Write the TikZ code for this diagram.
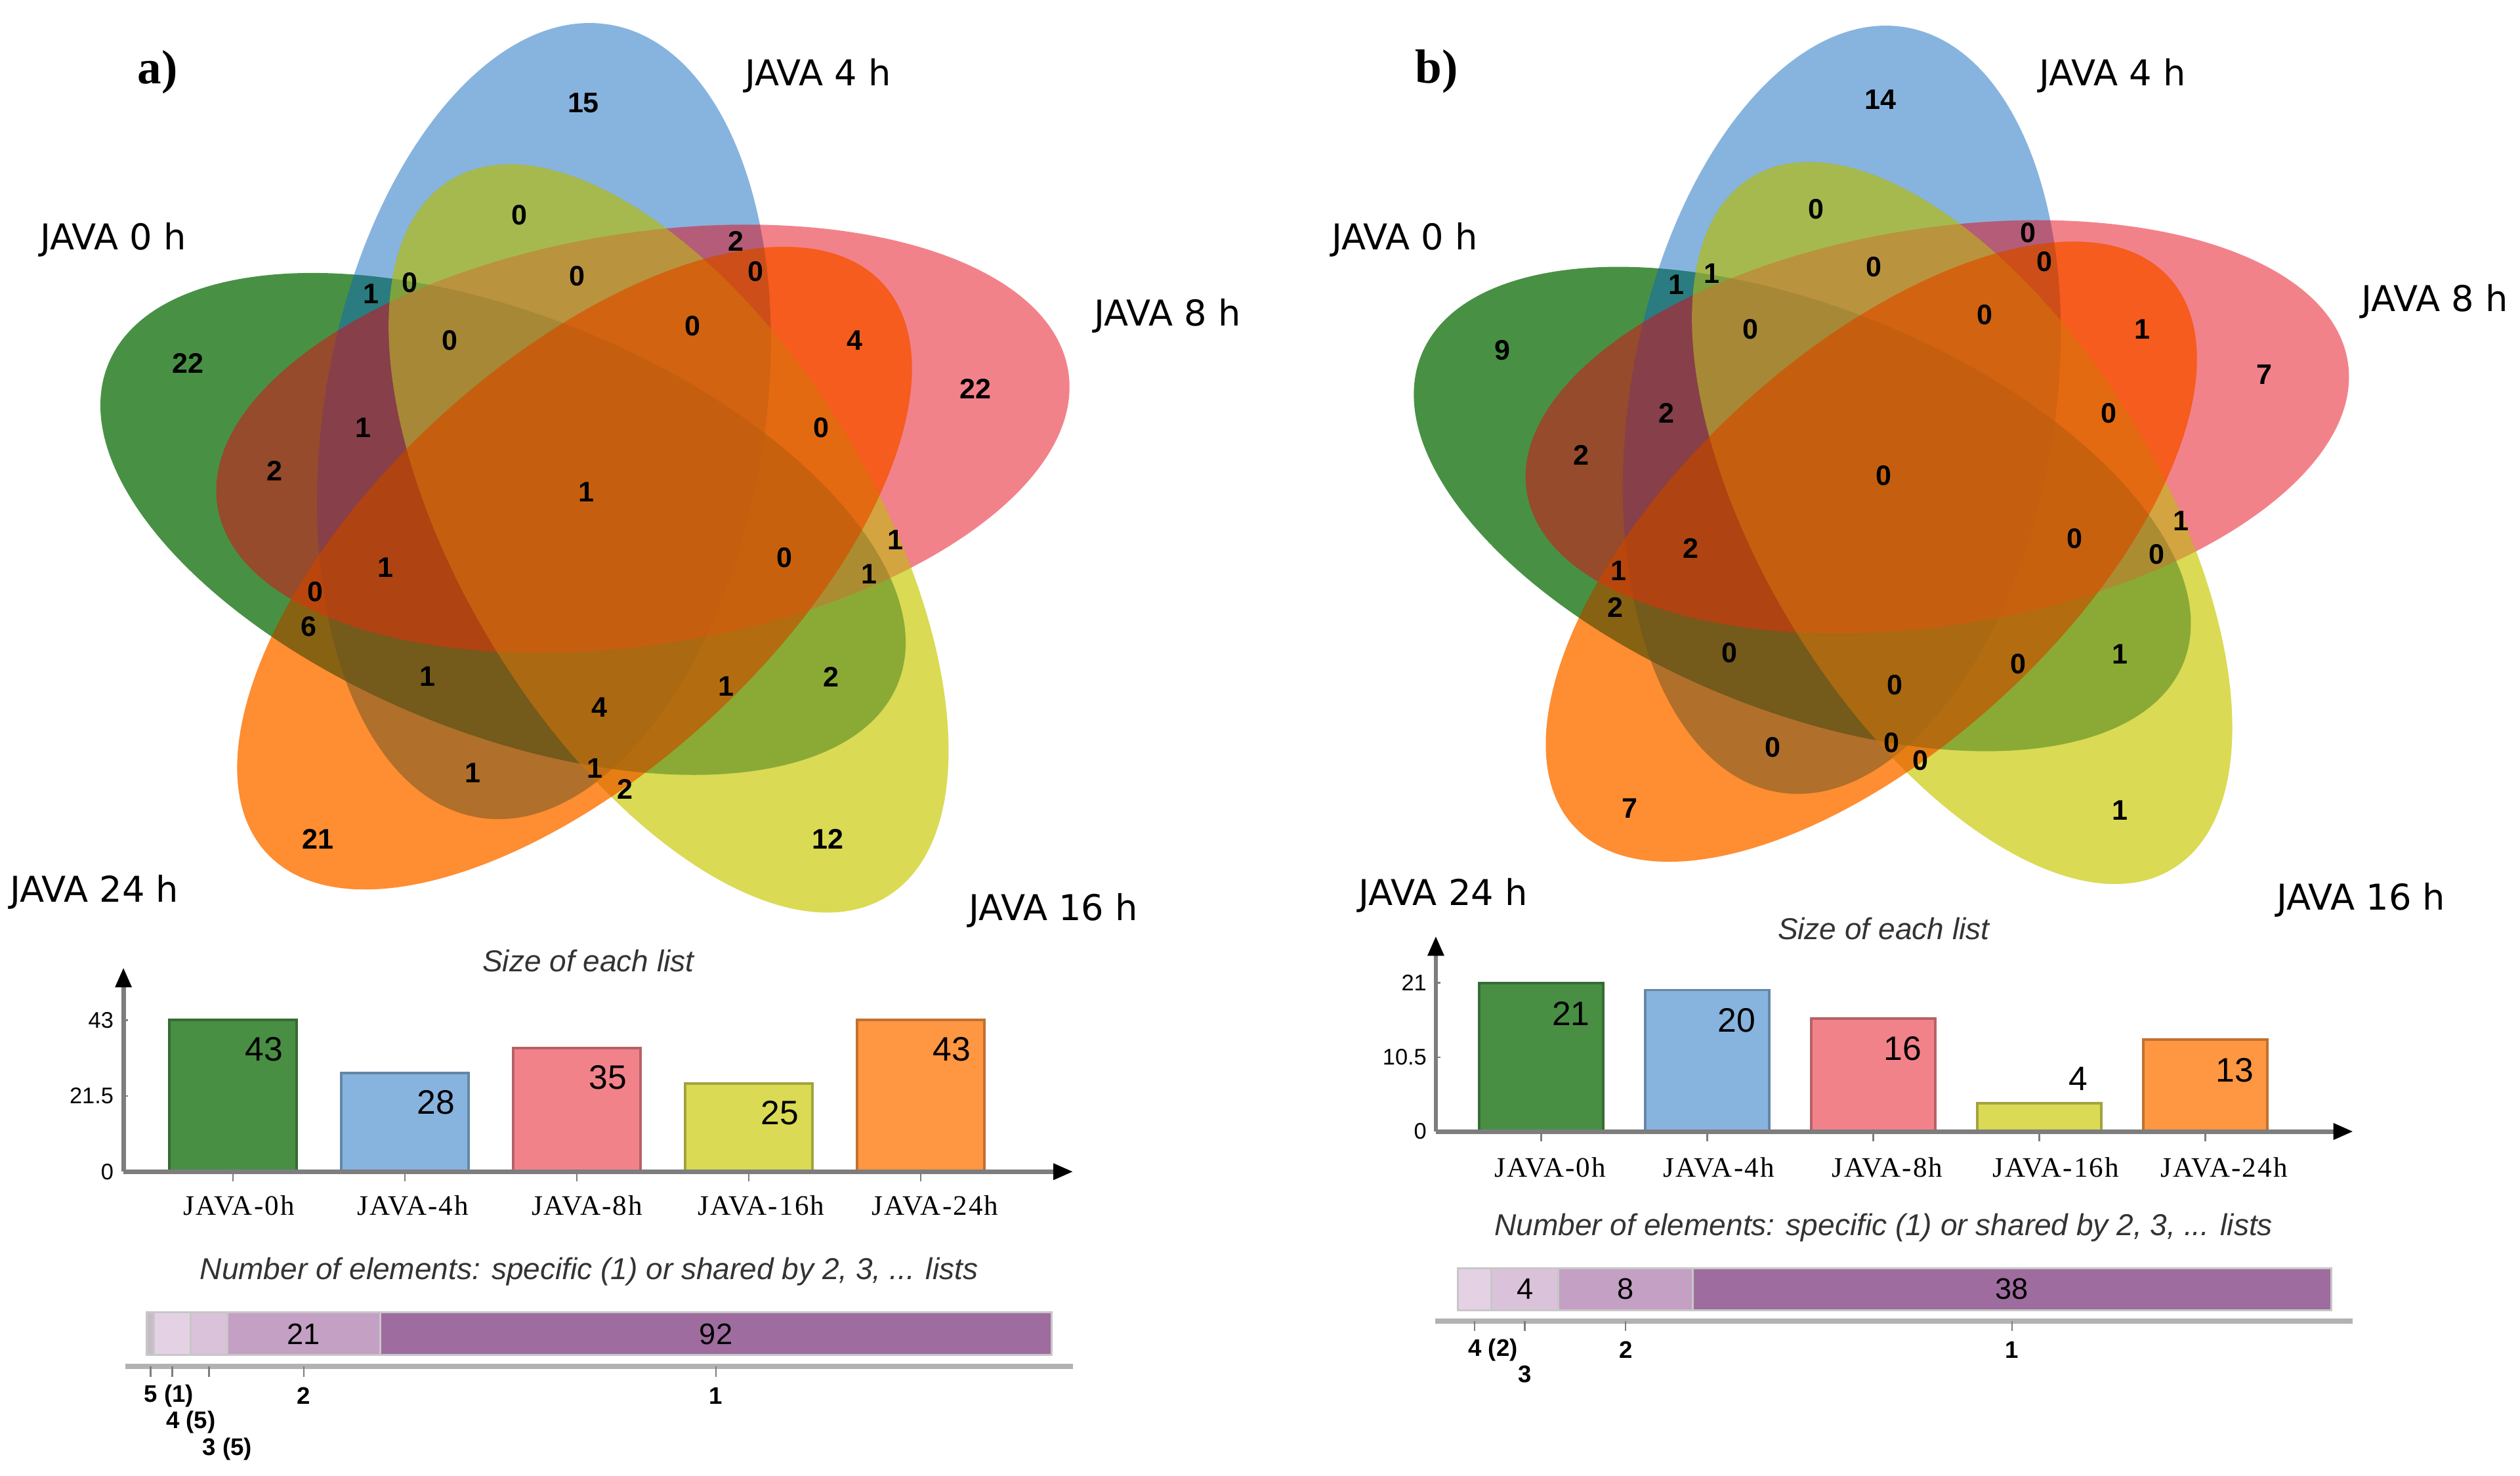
\documentclass[tikz,border=0pt]{standalone}
\usepackage{fontspec}
\setmainfont{Liberation Serif}
\newfontfamily\labfont{DejaVu Sans}
\newfontfamily\numfont{Liberation Sans}
\newfontfamily\catfont[LetterSpace=5]{Liberation Serif}
\usetikzlibrary{arrows.meta}

\definecolor{vgreen}{RGB}{26,118,21}
\definecolor{vblue}{RGB}{15,105,189}
\definecolor{vpink}{RGB}{229,5,21}
\definecolor{vorange}{RGB}{255,125,20}
\definecolor{bgreen}{RGB}{72,143,68}
\definecolor{bblue}{RGB}{135,180,222}
\definecolor{bpink}{RGB}{242,130,138}
\definecolor{byellow}{RGB}{218,218,85}
\definecolor{borange}{RGB}{255,150,65}
\definecolor{lone}{RGB}{158,108,158}
\definecolor{ltwo}{RGB}{196,160,196}
\definecolor{lthree}{RGB}{218,194,218}
\definecolor{lfour}{RGB}{228,210,228}
\definecolor{lfive}{RGB}{198,188,198}
\definecolor{axgray}{RGB}{125,125,125}

\tikzset{
  setname/.style={font=\labfont\fontsize{12.6}{14}\selectfont},
  cnt/.style={font=\numfont\bfseries\fontsize{10}{11}\selectfont, inner sep=0pt},
  panel/.style={font=\bfseries\fontsize{17}{19}\selectfont},
  ttl/.style={font=\numfont\itshape\fontsize{10.7}{12}\selectfont, text=black!80},
  barval/.style={font=\numfont\fontsize{12}{13}\selectfont, anchor=east, inner sep=0pt},
  cat/.style={font=\catfont\fontsize{10}{11}\selectfont},
  ytick/.style={font=\numfont\fontsize{8}{9}\selectfont, anchor=east, inner sep=0pt},
  lvl/.style={font=\numfont\bfseries\fontsize{8.5}{9}\selectfont, inner sep=0pt},
  segval/.style={font=\numfont\fontsize{10.5}{11}\selectfont},
  axline/.style={draw=axgray, line width=1.6pt, -{Triangle[length=7pt,width=5.5pt,color=black]}},
  baseline/.style={draw=black!30, line width=1.9pt},
  tck/.style={draw=axgray, line width=0.6pt},
  bar/.style={line width=0.9pt},
  seg/.style={draw=black!22, line width=0.7pt},
}

% the five ellipses, in panel a units
\newcommand{\fivesets}{%
  \fill[vgreen, fill opacity=.8, shift={(313,592)}, rotate=-22] (0,0) ellipse [x radius=265, y radius=130];
  \fill[vblue, fill opacity=.5, shift={(338.5,656)}, rotate=80.6] (0,0) ellipse [x radius=250, y radius=137];
  \fill[vpink, fill opacity=.5, shift={(400,645)}, rotate=9] (0,0) ellipse [x radius=268, y radius=128];
  % yellow and orange: darken first, then cover
  \fill[byellow, blend mode=multiply, shift={(416,583)}, rotate=121.3] (0,0) ellipse [x radius=261, y radius=128];
  \fill[byellow, fill opacity=.5, shift={(416,583)}, rotate=121.3] (0,0) ellipse [x radius=261, y radius=128];
  \fill[borange, blend mode=multiply, shift={(357.5,564.5)}, rotate=42.75] (0,0) ellipse [x radius=261, y radius=126];
  \fill[vorange, fill opacity=.35, shift={(357.5,564.5)}, rotate=42.75] (0,0) ellipse [x radius=261, y radius=126];
}

\begin{document}
\begin{tikzpicture}[x=0.02cm,y=0.02cm]
\useasboundingbox (0,0) rectangle (1568,918);
%----------panel a: venn----------------------
\fivesets
\node[panel] (pa) at (98,873) {a)};
\node[setname] (s4a) at (509,871) {JAVA 4 h};
\node[setname] (s0a) at (70.5,769) {JAVA 0 h};
\node[setname] (s8a) at (726.5,721.5) {JAVA 8 h};
\node[setname] (s24a) at (58.7,363) {JAVA 24 h};
\node[setname] (s16a) at (655.5,351.4) {JAVA 16 h};
\foreach \px/\py/\n [count=\k] in {363/854/15,323/784/0,458/768/2,470/749/0,359/746/0,231/735/1,
    255/742/0,280/706/0,431/715/0,532/706/4,117/692/22,607/676/22,226/652/1,511/652/0,171/625/2,
    365/612/1,557/582/1,488/571/0,240/565/1,541/561/1,196/550/0,192/528/6,266/497/1,517/497/2,
    452/491/1,373/478/4,294/437/1,370/440/1,389/427/2,198/396/21,515/396/12}
  \node[cnt] (ca\k) at (\px,\py) {\n};
%----------panel b: venn----------------------
\begin{scope}[shift={(819.4,30)},scale=0.965]
\fivesets
\end{scope}
\node[panel] (pb) at (894,873.5) {b)};
\node[setname] (s4b) at (1314.5,871) {JAVA 4 h};
\node[setname] (s0b) at (874,769) {JAVA 0 h};
\node[setname] (s8b) at (1515,730.5) {JAVA 8 h};
\node[setname] (s24b) at (898,361) {JAVA 24 h};
\node[setname] (s16b) at (1469,358) {JAVA 16 h};
\foreach \px/\py/\n [count=\k] in {1170/856/14,1130/788/0,1262/773/0,1272/755/0,1166/752/0,1043/741/1,
    1065/748/1,1089/713/0,1235/722/0,1333/713/1,935/700/9,1409/685/7,1037/661/2,1312/661/0,984/635/2,
    1172/622/0,1357/594/1,1291/583/0,1052/577/2,1342/573/0,1007/563/1,1005/540/2,1076/512/0,1319/511/1,
    1256/505/0,1179/492/0,1103/453/0,1177/456/0,1195/445/0,1014/415/7,1319/414/1}
  \node[cnt] (cb\k) at (\px,\py) {\n};
%----------panel a: size of each list---------
\coordinate (oa) at (76.8,189);
\node[ttl] (ta) at (366,320) {Size of each list};
\foreach \c/\v [count=\i] in {bgreen/43,bblue/28,bpink/35,byellow/25,borange/43}{
  \pgfmathsetmacro{\bx}{105.4+(\i-1)*107}
  \pgfmathsetmacro{\bh}{\v*2.193}
  \draw[bar, fill=\c, draw=\c!75!black] (\bx,189) rectangle ++(79,\bh);
  \node[barval] (va\i) at (\bx+71,189+\bh-18.3) {\v};
  \draw[tck] (\bx+39.5,189) -- ++(0,-6);
}
\foreach \t [count=\i] in {JAVA-0h,JAVA-4h,JAVA-8h,JAVA-16h,JAVA-24h}
  \node[cat] (ka\i) at (148.7+\i*108.3-108.3,168) {\t};
\draw[axline] (oa) -- ++(590.9,0);
\draw[axline] (oa) -- ++(0,127);
\foreach \h/\t [count=\i] in {0/0,47.15/21.5,94.3/43}{
  \node[ytick] (ya\i) at (71,189+\h) {\t};
  \draw[tck] (76.8,189+\h) -- ++(3,0);
}
%----------panel a: shared elements-----------
\node[ttl] (ea) at (366.5,126.8) {Number of elements: specific (1) or shared by 2, 3, ... lists};
\draw[seg, fill=lfive] (91.4,74.8) rectangle (95.9,101.4);
\draw[seg, fill=lfour] (95.9,74.8) rectangle (118.6,101.4);
\draw[seg, fill=lthree] (118.6,74.8) rectangle (141.3,101.4);
\draw[seg, fill=ltwo] (141.3,74.8) rectangle (236.7,101.4);
\draw[seg, fill=lone] (236.7,74.8) rectangle (654.4,101.4);
\node[segval] (ga2) at (189,88) {21};
\node[segval] (ga1) at (445.5,88) {92};
\draw[baseline] (77.8,67.8) -- (667.7,67.8);
\foreach \x in {93.65,107.25,129.95,189,445.5}
  \draw[tck] (\x,67.8) -- ++(0,-6.3);
\node[lvl, anchor=west] (la5) at (89.45,49.4) {5 (1)};
\node[lvl, anchor=west] (la4) at (103.05,33.3) {4 (5)};
\node[lvl, anchor=west] (la3) at (125.75,16.2) {3 (5)};
\node[lvl] (la2) at (189,49.4) {2};
\node[lvl] (la1) at (445.5,49.4) {1};
%----------panel b: size of each list---------
\coordinate (ob) at (893.4,214);
\node[ttl] (tb) at (1172,340.3) {Size of each list};
\foreach \c/\v/\dy [count=\i] in {bgreen/21/-19,bblue/20/-19,bpink/16/-19,byellow/4/15,borange/13/-19}{
  \pgfmathsetmacro{\bx}{920.5+(\i-1)*103.3}
  \pgfmathsetmacro{\bh}{\v*4.4}
  \draw[bar, fill=\c, draw=\c!75!black] (\bx,214) rectangle ++(77,\bh);
  \node[barval] (vb\i) at (\bx+69,214+\bh+\dy) {\v};
  \draw[tck] (\bx+38.5,214) -- ++(0,-6);
}
\foreach \t [count=\i] in {JAVA-0h,JAVA-4h,JAVA-8h,JAVA-16h,JAVA-24h}
  \node[cat] (kb\i) at (964.7+\i*104.8-104.8,191.6) {\t};
\draw[axline] (ob) -- ++(570.8,0);
\draw[axline] (ob) -- ++(0,121.6);
\foreach \h/\t [count=\i] in {0/0,46.2/10.5,92.4/21}{
  \node[ytick] (yb\i) at (888,214+\h) {\t};
  \draw[tck] (893.4,214+\h) -- ++(3,0);
}
%----------panel b: shared elements-----------
\node[ttl] (eb) at (1172,154.2) {Number of elements: specific (1) or shared by 2, 3, ... lists};
\draw[seg, fill=lfour] (907,102.7) rectangle (927.9,129);
\draw[seg, fill=lthree] (927.9,102.7) rectangle (969.7,129);
\draw[seg, fill=ltwo] (969.7,102.7) rectangle (1053.3,129);
\draw[seg, fill=lone] (1053.3,102.7) rectangle (1450.4,129);
\node[segval] (gb3) at (948.8,116) {4};
\node[segval] (gb2) at (1011.5,116) {8};
\node[segval] (gb1) at (1251.9,116) {38};
\draw[baseline] (893,96.1) -- (1464,96.1);
\foreach \x in {917.45,948.8,1011.5,1251.9}
  \draw[tck] (\x,96.1) -- ++(0,-6.3);
\node[lvl, anchor=west] (lb4) at (913.25,78) {4 (2)};
\node[lvl] (lb3) at (948.8,63) {3};
\node[lvl] (lb2) at (1011.5,78) {2};
\node[lvl] (lb1) at (1251.9,78) {1};
\end{tikzpicture}
\end{document}
